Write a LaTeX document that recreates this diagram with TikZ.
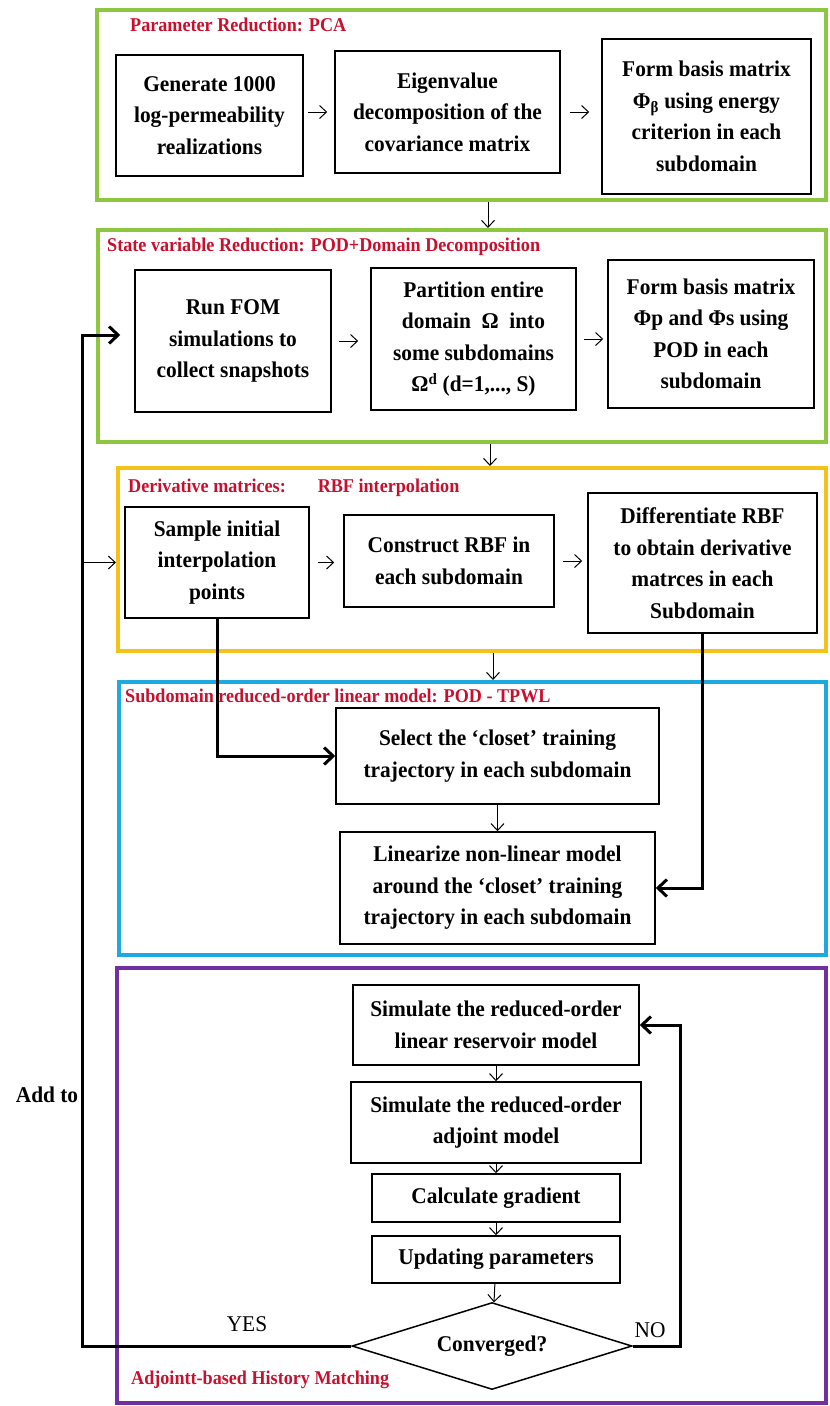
\documentclass[tikz,border=0pt]{standalone}
\usepackage{fontspec}
\setmainfont{Liberation Serif}
\newfontfamily\myboxfam[FakeStretch=0.95]{Liberation Serif}
\newfontfamily\mytitfam[FakeStretch=0.93]{Liberation Serif}
\usetikzlibrary{arrows.meta,shapes.geometric}
\definecolor{fgreen}{HTML}{8DC63F}
\definecolor{fyellow}{HTML}{F5C21B}
\definecolor{fblue}{HTML}{1FA9E1}
\definecolor{fpurple}{HTML}{7030A0}
\definecolor{tred}{HTML}{C8102E}
\newcommand\myboxfont{\myboxfam\bfseries\fontsize{22.5}{31.5}\selectfont}
\newcommand\mytitfont{\mytitfam\bfseries\fontsize{19.5}{22}\selectfont}
\newcommand\mylblfont{\myboxfam\fontsize{22.5}{26}\selectfont}
\begin{document}
\begin{tikzpicture}[x=1pt,y=-1pt,
  frame/.style={draw, line width=4pt, inner sep=0pt},
  box/.style={draw, line width=1.5pt, align=center, font=\myboxfont, inner sep=0pt},
  sectitle/.style={text=tred, font=\mytitfont, inner sep=0pt, anchor=west},
  thinar/.style={line width=1pt, -{Straight Barb[length=7pt,width=13pt]}},
  thickar/.style={line width=3pt, -{Straight Barb[length=9pt,width=17pt]}},
  lbl/.style={font=\mylblfont, inner sep=0pt}
]
\useasboundingbox (0,0) rectangle (830,1406);

% frames
\node[frame, draw=fgreen, minimum width=729pt, minimum height=190pt] (f1) at (461.5,105) {};
\node[frame, draw=fgreen, minimum width=728pt, minimum height=212pt] (f2) at (462,336) {};
\node[frame, draw=fyellow, minimum width=708pt, minimum height=183pt] (f3) at (472,559.5) {};
\node[frame, draw=fblue, minimum width=707pt, minimum height=273pt] (f4) at (472.5,818.5) {};
\node[frame, draw=fpurple, minimum width=709pt, minimum height=435pt] (f5) at (471.5,1185.5) {};

% titles
\node[sectitle] (t1) at (130,25) {Parameter Reduction: PCA};
\node[sectitle] (t2) at (107,247) {State variable Reduction: POD+Domain Decomposition};
\node[sectitle] (t3) at (128,488) {Derivative matrices:\hspace{32pt}RBF interpolation};
\node[sectitle] (t4) at (125,696) {Subdomain reduced-order linear model: POD - TPWL};
\node[sectitle] (t5) at (131,1380) {Adjointt-based History Matching};

% section 1
\node[box, minimum width=187pt, minimum height=121pt] (b11) at (209.5,115.5)
  {Generate 1000\\log-permeability\\realizations};
\node[box, minimum width=225pt, minimum height=122pt] (b12) at (447.5,112)
  {Eigenvalue\\decomposition of the\\covariance matrix};
\node[box, minimum width=209pt, minimum height=155pt] (b13) at (706.5,116.5)
  {Form basis matrix\\Φ\textsubscript{β} using energy\\criterion in each\\subdomain};

% section 2
\node[box, minimum width=196pt, minimum height=142pt] (b21) at (233,341)
  {Run FOM\\simulations to\\collect snapshots};
\node[box, minimum width=205pt, minimum height=142pt] (b22) at (473.5,339)
  {Partition entire\\domain~ Ω~ into\\some subdomains\\Ω\textsuperscript{d} (d=1,..., S)};
\node[box, minimum width=206pt, minimum height=148pt] (b23) at (711,334)
  {Form basis matrix\\Φp and Φs using\\POD in each\\subdomain};

% section 3
\node[box, minimum width=184pt, minimum height=111pt] (b31) at (217,562.5)
  {Sample initial\\interpolation\\points};
\node[box, minimum width=210pt, minimum height=92pt] (b32) at (449,561)
  {Construct RBF in\\each subdomain};
\node[box, minimum width=229pt, minimum height=140pt] (b33) at (702.5,563)
  {Differentiate RBF\\to obtain derivative\\matrces in each\\Subdomain};

% section 4
\node[box, minimum width=323pt, minimum height=96pt] (b41) at (497.5,756)
  {Select the ‘closet’ training\\trajectory in each subdomain};
\node[box, minimum width=315pt, minimum height=112pt] (b42) at (497.5,888)
  {Linearize non-linear model\\around the ‘closet’ training\\trajectory in each subdomain};

% section 5
\node[box, minimum width=286pt, minimum height=80pt] (b51) at (496,1025)
  {Simulate the reduced-order\\linear reservoir model};
\node[box, minimum width=290pt, minimum height=81pt] (b52) at (496,1122.5)
  {Simulate the reduced-order\\adjoint model};
\node[box, minimum width=248pt, minimum height=48pt] (b53) at (496,1198)
  {Calculate gradient};
\node[box, minimum width=248pt, minimum height=47pt] (b54) at (496,1259.5)
  {Updating parameters};
\node[box, shape=diamond, aspect=3.2, minimum width=280pt, minimum height=87pt] (dia) at (492,1346)
  {Converged?};

% labels
\node[lbl, font=\myboxfont] (addto) at (47,1095) {Add to};
\node[lbl] (yes) at (247,1324) {YES};
\node[lbl] (no) at (650,1330) {NO};

% coordinates
\coordinate (xa) at (488,0);
\coordinate (xb) at (490,0);
\coordinate (xc) at (493,0);
\coordinate (lx) at (82,0);
\coordinate (rx) at (680,0);

% section-to-section arrows
\draw[thinar] (xa |- f1.south) -- (xa |- f2.north);
\draw[thinar] (xb |- f2.south) -- (xb |- f3.north);
\draw[thinar] (xc |- f3.south) -- (xc |- f4.north);

% horizontal thin arrows
\draw[thinar, shorten <=4pt, shorten >=7pt] (b11.east |- b12.west) -- (b12.west);
\draw[thinar, shorten <=9pt, shorten >=12pt] (b12.east) -- (b12.east -| b13.west);
\draw[thinar, shorten <=7pt, shorten >=12pt] (b21.east) -- (b21.east -| b22.west);
\draw[thinar, shorten <=7pt, shorten >=4pt] (b22.east) -- (b22.east -| b23.west);
\draw[thinar, shorten <=8pt, shorten >=9pt] (b31.east) -- (b31.east -| b32.west);
\draw[thinar, shorten <=8pt, shorten >=5pt] (b32.east) -- (b32.east -| b33.west);

% vertical thin arrows
\draw[thinar] (b41) -- (b42);
\draw[thinar] (b51) -- (b52);
\draw[thinar] (b52) -- (b53);
\draw[thinar] (b53) -- (b54);
\draw[thinar] (b54) -- (dia);

% thick connectors
\draw[thickar] (b31.south) |- (b41.west);
\draw[thickar] (b33.south) |- (b42.east);
\draw[thickar, shorten >=14pt] (dia.west) -| ([yshift=6pt]lx |- b21.west) -- ([yshift=6pt]b21.west);
\draw[thinar] (lx |- b31) -- (f3.west |- b31);
\draw[thickar] (dia.east) -| (rx |- b51.east) -- (b51.east);

\end{tikzpicture}
\end{document}
